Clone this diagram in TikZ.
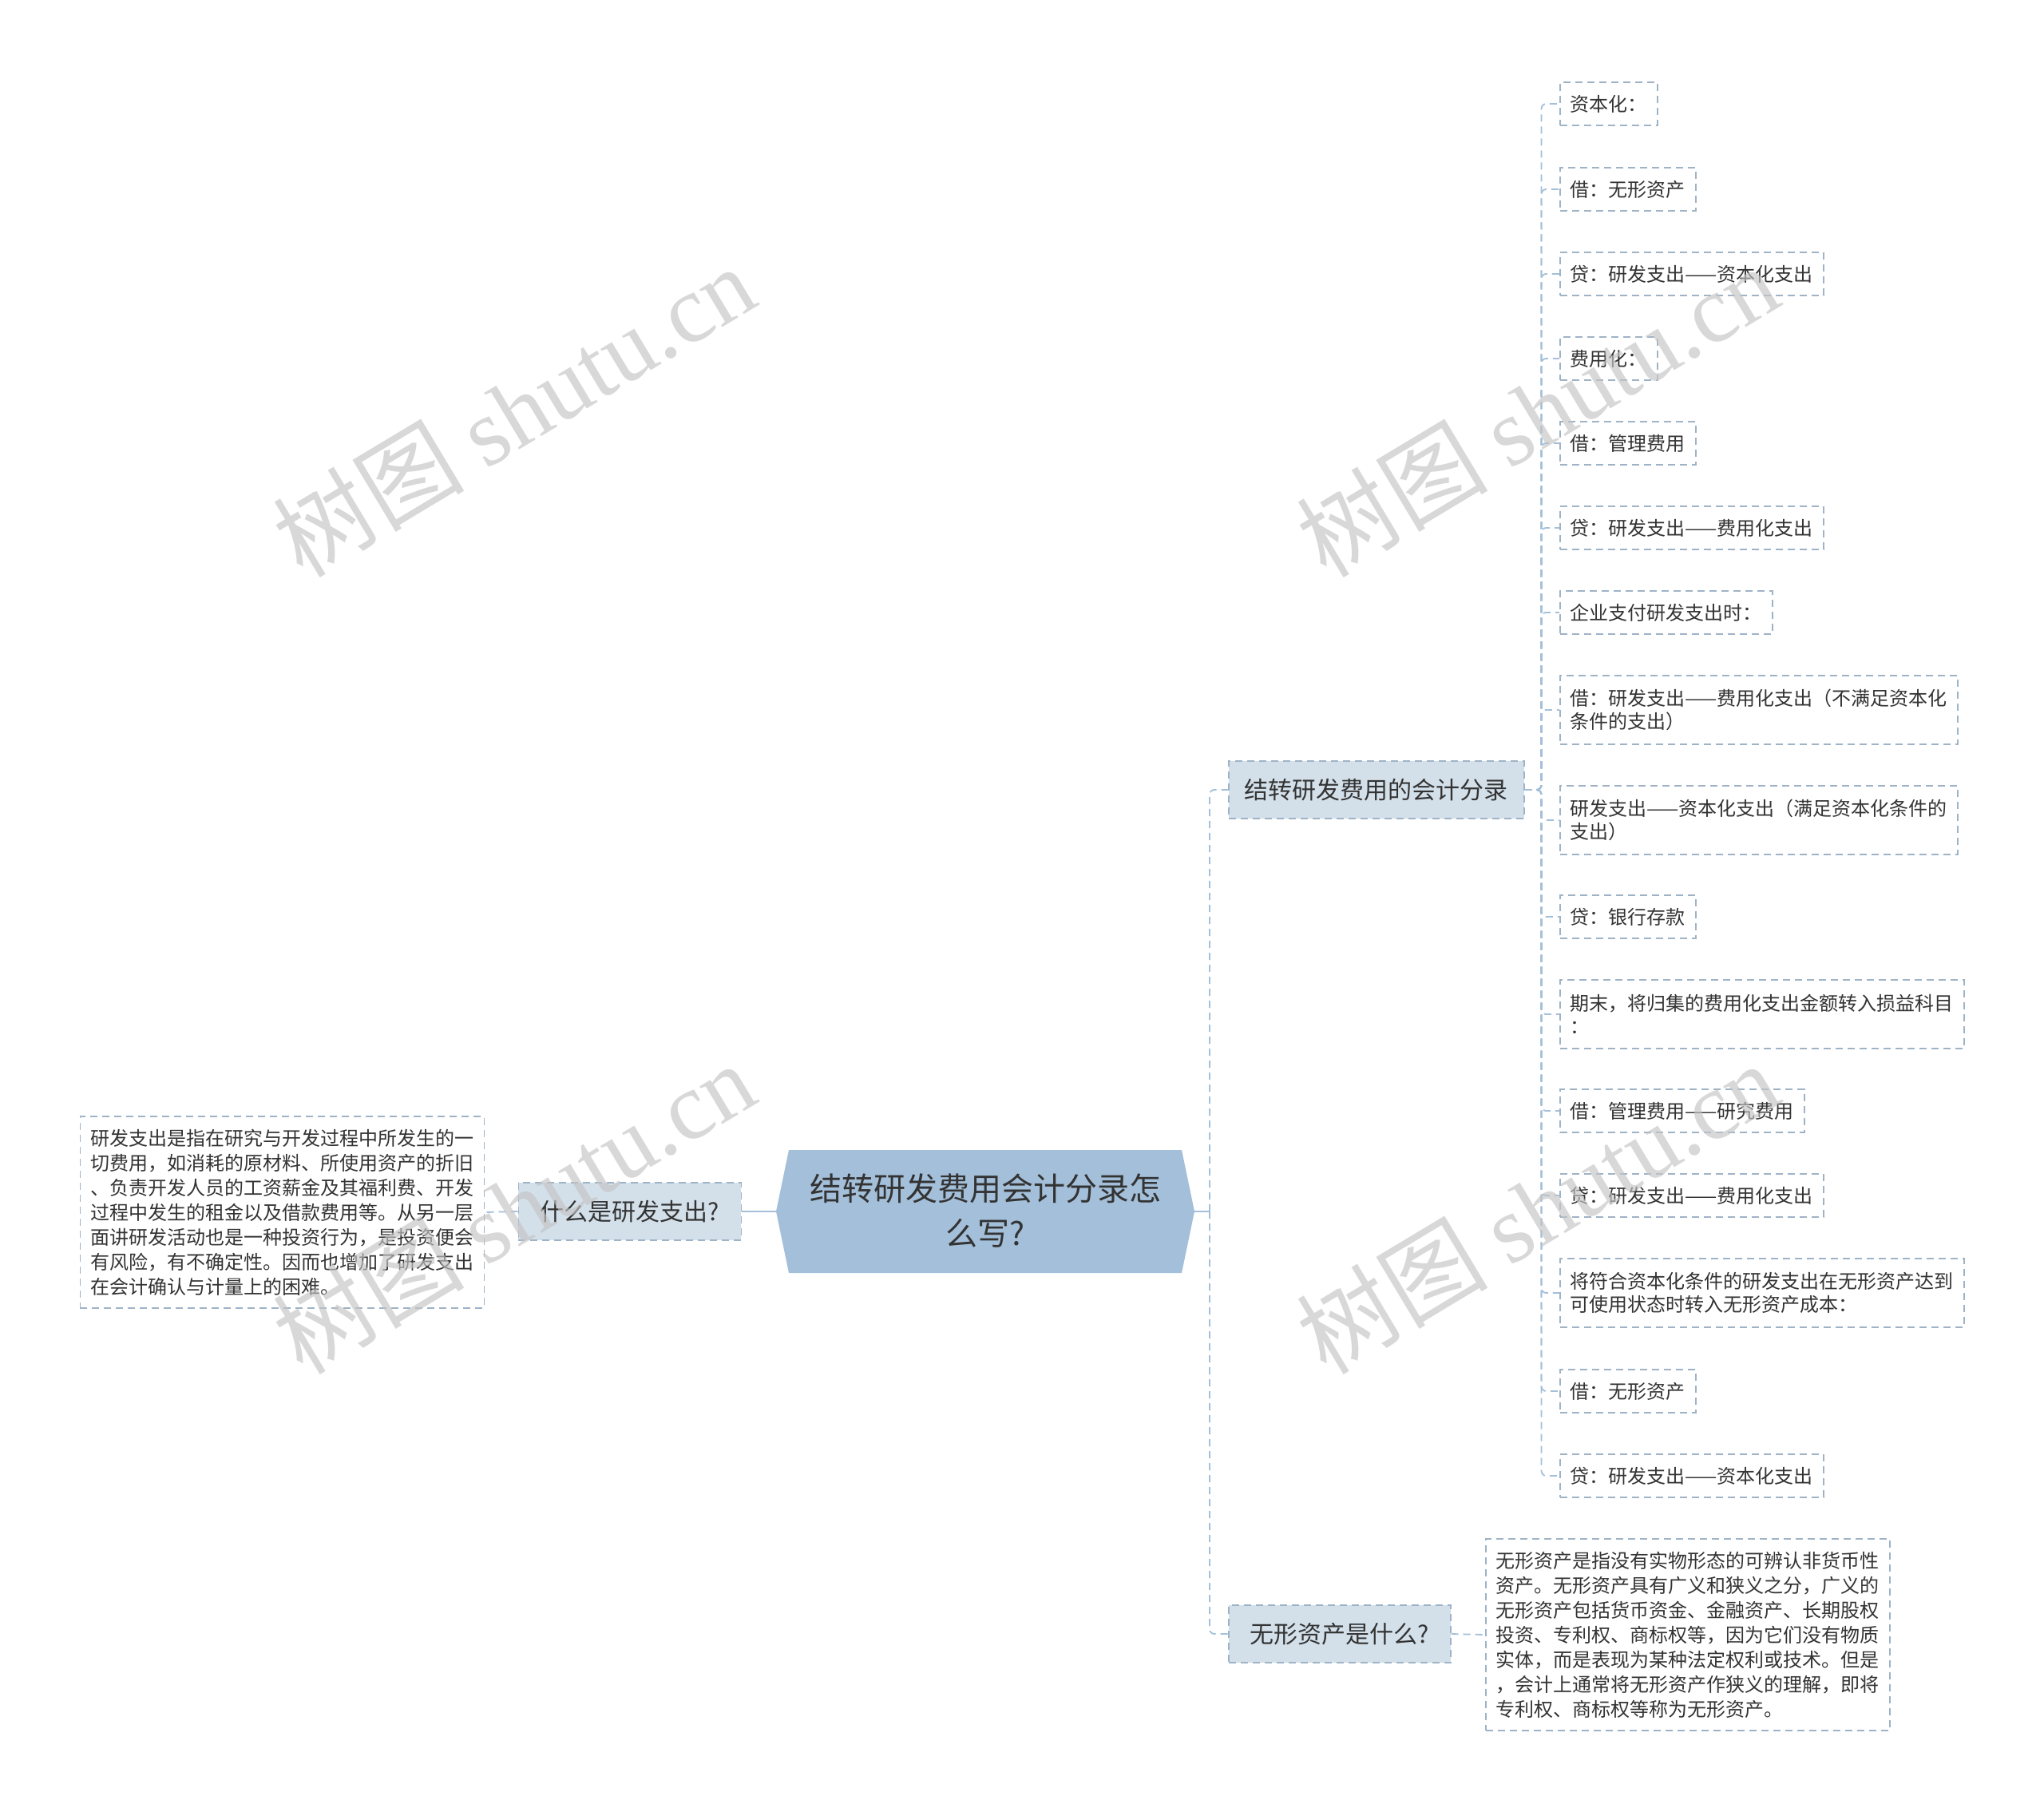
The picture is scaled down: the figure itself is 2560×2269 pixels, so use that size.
\documentclass[tikz,border=0pt]{standalone}
\usepackage{fontspec}
\setmainfont{Noto Sans CJK SC}
\newfontfamily\wmcjk{Noto Sans CJK SC}
\newfontfamily\wmlat{Liberation Serif}
\definecolor{mainfill}{HTML}{A3BFD9}
\definecolor{lonefill}{HTML}{D3E0EA}
\definecolor{bordercol}{HTML}{9FB3C7}
\definecolor{linecol}{HTML}{A3BFD9}
\definecolor{txt}{HTML}{333333}
\definecolor{wmcol}{HTML}{C4C4C4}
\begin{document}
\begin{tikzpicture}[x=1pt,y=-1pt,
  dsh/.style={dash pattern=on 9pt off 6pt},
  leaf/.style={draw=bordercol, dsh, line width=1.5pt, anchor=west, inner xsep=13pt, inner ysep=0pt, minimum height=54pt, font=\fontsize{24}{29}\selectfont, text=txt, align=left},
  leaftwo/.style={leaf, minimum height=86pt},
  para/.style={draw=bordercol, dsh, line width=1.5pt, inner xsep=13pt, inner ysep=0pt, minimum height=240pt, font=\fontsize{24}{31}\selectfont, text=txt, align=left},
  lone/.style={fill=lonefill, draw=bordercol, dsh, line width=1.5pt, inner xsep=18pt, inner ysep=0pt, minimum height=72pt, font=\fontsize{30}{36}\selectfont, text=txt},
  conn/.style={draw=linecol, line width=1.8pt, dsh, rounded corners=6pt},
  solidconn/.style={draw=linecol, line width=1.8pt},
  wm/.style={text=wmcol, opacity=0.65, font=\fontsize{120}{120}\selectfont, rotate=31, inner sep=0pt}
]
\useasboundingbox (0,0) rectangle (2560,2269);
\fill[white] (0,0) rectangle (2560,2269);

% central hexagon
\coordinate (mainL) at (972,1517);
\coordinate (mainR) at (1496,1517);
\coordinate (trunk) at (1515,1517);
\fill[mainfill] (mainL) -- (988,1440) -- (1480,1440) -- (mainR) -- (1480,1594) -- (988,1594) -- cycle;
\node[font=\fontsize{40}{56}\selectfont, text=txt, align=center] (main) at (1234,1516) {结转研发费用会计分录怎\\么写?};

% left branch
\node[lone, anchor=east, minimum width=279pt] (q1) at (929,1517) {什么是研发支出?};
\node[para, anchor=east] (d1) at (607,1518) {研发支出是指在研究与开发过程中所发生的一\\切费用，如消耗的原材料、所使用资产的折旧\\、负责开发人员的工资薪金及其福利费、开发\\过程中发生的租金以及借款费用等。从另一层\\面讲研发活动也是一种投资行为，是投资便会\\有风险，有不确定性。因而也增加了研发支出\\在会计确认与计量上的困难。};

% right level-1
\node[lone, anchor=west, minimum width=370pt] (q2) at (1538,989) {结转研发费用的会计分录};
\node[lone, anchor=west, minimum width=278pt] (q3) at (1538,2046) {无形资产是什么?};
\node[para, anchor=west] (d3) at (1860,2047) {无形资产是指没有实物形态的可辨认非货币性\\资产。无形资产具有广义和狭义之分，广义的\\无形资产包括货币资金、金融资产、长期股权\\投资、专利权、商标权等，因为它们没有物质\\实体，而是表现为某种法定权利或技术。但是\\，会计上通常将无形资产作狭义的理解，即将\\专利权、商标权等称为无形资产。};

% leaves
\node[leaf] (a1) at (1953,130) {资本化：};
\node[leaf] (a2) at (1953,237) {借：无形资产};
\node[leaf] (a3) at (1953,343) {贷：研发支出——资本化支出};
\node[leaf] (a4) at (1953,449) {费用化：};
\node[leaf] (a5) at (1953,555) {借：管理费用};
\node[leaf] (a6) at (1953,661) {贷：研发支出——费用化支出};
\node[leaf] (a7) at (1953,767) {企业支付研发支出时：};
\node[leaftwo] (a8) at (1953,889) {借：研发支出——费用化支出（不满足资本化\\条件的支出）};
\node[leaftwo] (a9) at (1953,1027) {研发支出——资本化支出（满足资本化条件的\\支出）};
\node[leaf] (a10) at (1953,1148) {贷：银行存款};
\node[leaftwo] (a11) at (1953,1270) {期末，将归集的费用化支出金额转入损益科目\\：};
\node[leaf] (a12) at (1953,1391) {借：管理费用——研究费用};
\node[leaf] (a13) at (1953,1497) {贷：研发支出——费用化支出};
\node[leaftwo] (a14) at (1953,1619) {将符合资本化条件的研发支出在无形资产达到\\可使用状态时转入无形资产成本：};
\node[leaf] (a15) at (1953,1742) {借：无形资产};
\node[leaf] (a16) at (1953,1848) {贷：研发支出——资本化支出};

% connectors
\draw[solidconn] (mainL) -- (q1.east);
\draw[conn] (q1.west) -- (d1.east);
\draw[solidconn] (mainR) -- (trunk);
\draw[conn] (trunk) |- (q2.west);
\draw[conn] (trunk) |- (q3.west);
\draw[conn] (q3.east) -- (d3.west);
\foreach \i in {1,...,16} {
  \draw[conn] (q2.east) -- ++(21,0) |- (a\i.west);
}

% watermarks
\node[wm] (w1) at (643,514) {\wmcjk 树图 \wmlat shutu.cn};
\node[wm] (w2) at (1925,514) {\wmcjk 树图 \wmlat shutu.cn};
\node[wm] (w3) at (643,1512) {\wmcjk 树图 \wmlat shutu.cn};
\node[wm] (w4) at (1925,1512) {\wmcjk 树图 \wmlat shutu.cn};
\end{tikzpicture}
\end{document}
